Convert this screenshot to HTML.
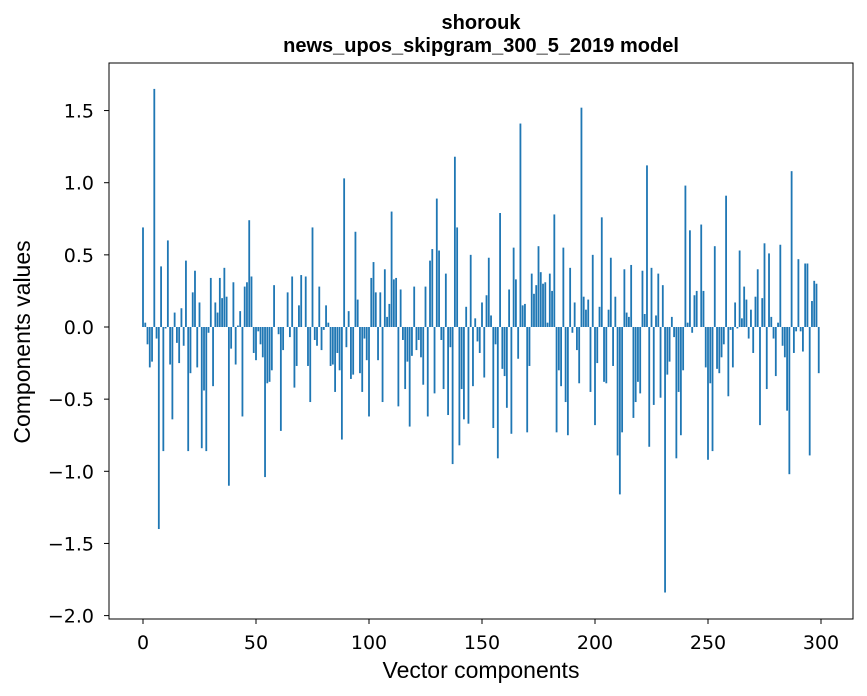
<!DOCTYPE html>
<html><head><meta charset="utf-8"><style>
body{margin:0;background:#fff;}
svg{display:block;font-family:"Liberation Sans","DejaVu Sans",sans-serif;}
.tk{font-family:"DejaVu Sans","Liberation Sans",sans-serif;}
</style></head><body>
<svg id="chart" width="867" height="696">
<rect x="0" y="0" width="867" height="696" fill="#fff"/>
<text x="481" y="29" text-anchor="middle" font-size="20" font-weight="bold">shorouk</text>
<text x="481" y="52" text-anchor="middle" font-size="20" font-weight="bold">news_upos_skipgram_300_5_2019 model</text>
<g id="bars"></g>
<g id="xticks"></g>
<g id="yticks"></g>
<rect x="109" y="63" width="744" height="556" fill="none" stroke="#000" stroke-width="1"/>
<text x="481" y="678" text-anchor="middle" font-size="23">Vector components</text>
<text transform="translate(30,342) rotate(-90)" text-anchor="middle" font-size="23">Components values</text>
</svg>
<script>
const values = [0.69,0.03,-0.12,-0.28,-0.24,1.65,-0.08,-1.40,0.42,-0.86,-0.01,0.60,-0.26,-0.64,0.10,-0.11,-0.25,0.13,-0.13,0.46,
-0.86,-0.32,0.24,0.39,-0.28,0.17,-0.84,-0.44,-0.86,-0.04,0.34,-0.41,0.17,0.10,0.34,0.20,0.41,0.21,-1.10,-0.15,
0.31,-0.26,0.01,0.11,-0.62,0.28,0.31,0.74,0.35,-0.18,-0.23,-0.03,-0.12,-0.21,-1.04,-0.39,-0.38,-0.30,0.29,0.00,
-0.05,-0.72,-0.16,0.00,0.24,-0.07,0.35,-0.42,-0.27,0.15,0.36,0.00,0.35,-0.27,-0.52,0.69,-0.09,-0.13,0.28,-0.16,
-0.02,0.15,0.03,-0.27,-0.26,-0.45,-0.18,-0.30,-0.78,1.03,-0.14,0.11,-0.36,-0.33,0.66,0.19,-0.32,-0.45,-0.08,-0.23,
-0.62,0.34,0.45,0.24,-0.23,0.24,-0.52,0.40,0.07,0.16,0.80,0.33,0.34,-0.55,0.26,-0.09,-0.43,-0.24,-0.69,-0.20,
0.28,-0.16,-0.09,-0.21,-0.40,0.28,-0.62,0.46,0.54,-0.46,0.89,0.53,-0.09,-0.43,0.37,-0.61,-0.14,-0.95,1.18,0.69,
-0.82,-0.43,-0.64,0.14,-0.67,0.50,-0.41,0.06,-0.10,-0.18,0.17,-0.35,0.22,0.48,0.08,-0.70,-0.12,-0.91,0.79,-0.29,
-0.34,-0.56,0.26,-0.74,0.55,0.33,-0.22,1.41,0.15,0.16,-0.73,-0.27,0.37,0.23,0.29,0.56,0.38,0.30,0.31,0.03,
0.37,0.25,0.78,-0.73,-0.30,-0.41,0.55,-0.52,-0.75,0.41,-0.04,0.17,-0.16,-0.39,1.52,0.21,0.12,0.19,-0.45,0.50,
-0.68,-0.25,0.14,0.76,-0.38,-0.39,0.12,0.48,-0.27,0.21,-0.89,-1.16,-0.73,0.40,0.10,0.07,0.43,-0.63,-0.52,-0.38,
-0.46,0.39,0.09,1.12,-0.83,0.41,-0.54,0.08,0.37,-0.49,0.29,-1.84,-0.33,-0.24,0.07,-0.07,-0.91,-0.45,-0.75,-0.30,
0.98,0.03,0.67,-0.04,0.22,0.25,0.00,0.71,0.25,-0.28,-0.92,-0.39,-0.86,0.56,-0.29,-0.32,-0.21,-0.12,0.91,-0.48,
-0.02,-0.28,0.17,-0.01,0.53,0.06,0.28,0.19,-0.08,0.12,-0.18,0.21,0.40,-0.68,0.20,0.58,-0.43,0.51,0.07,-0.08,
-0.34,0.03,0.57,-0.13,-0.21,-0.58,-1.02,1.08,-0.18,-0.03,0.47,-0.03,-0.17,0.44,0.44,-0.89,0.18,0.32,0.30,-0.32];
const xTickValues = [0,50,100,150,200,250,300];
const yTickValues = [1.5,1.0,0.5,0.0,-0.5,-1.0,-1.5,-2.0];
const yTickLabels = ["1.5","1.0","0.5","0.0","\u22120.5","\u22121.0","\u22121.5","\u22122.0"];

const NS = "http://www.w3.org/2000/svg";
function xScale(i){ return 143 + i * 2.26; }
function yScale(v){ return 327 - v * 144.3; }

const barsG = document.getElementById('bars');
const bw = 0.8 * 2.26;
values.forEach((v, i) => {
  const r = document.createElementNS(NS, 'rect');
  const y0 = yScale(0), y1 = yScale(v);
  r.setAttribute('x', xScale(i) - bw / 2);
  r.setAttribute('y', Math.min(y0, y1));
  r.setAttribute('width', bw);
  r.setAttribute('height', Math.max(Math.abs(y1 - y0), 0.01));
  r.setAttribute('fill', '#1f77b4');
  
  
  barsG.appendChild(r);
});

const xg = document.getElementById('xticks');
xTickValues.forEach(t => {
  const x = xScale(t);
  const l = document.createElementNS(NS, 'line');
  l.setAttribute('x1', x); l.setAttribute('x2', x);
  l.setAttribute('y1', 619); l.setAttribute('y2', 624);
  l.setAttribute('stroke', '#000');
  
  
  xg.appendChild(l);
  const tx = document.createElementNS(NS, 'text');
  tx.setAttribute('x', x); tx.setAttribute('y', 649);
  tx.setAttribute('text-anchor', 'middle');
  tx.setAttribute('font-size', '19');
  tx.setAttribute('class', 'tk');
  tx.textContent = String(t);
  
  
  xg.appendChild(tx);
});

const yg = document.getElementById('yticks');
yTickValues.forEach((t, k) => {
  const y = yScale(t);
  const l = document.createElementNS(NS, 'line');
  l.setAttribute('x1', 104); l.setAttribute('x2', 109);
  l.setAttribute('y1', y); l.setAttribute('y2', y);
  l.setAttribute('stroke', '#000');
  
  
  yg.appendChild(l);
  const tx = document.createElementNS(NS, 'text');
  tx.setAttribute('x', 94); tx.setAttribute('y', y + 7);
  tx.setAttribute('text-anchor', 'end');
  tx.setAttribute('font-size', '19');
  tx.setAttribute('class', 'tk');
  tx.textContent = yTickLabels[k];
  
  
  yg.appendChild(tx);
});
</script>
</body></html>
